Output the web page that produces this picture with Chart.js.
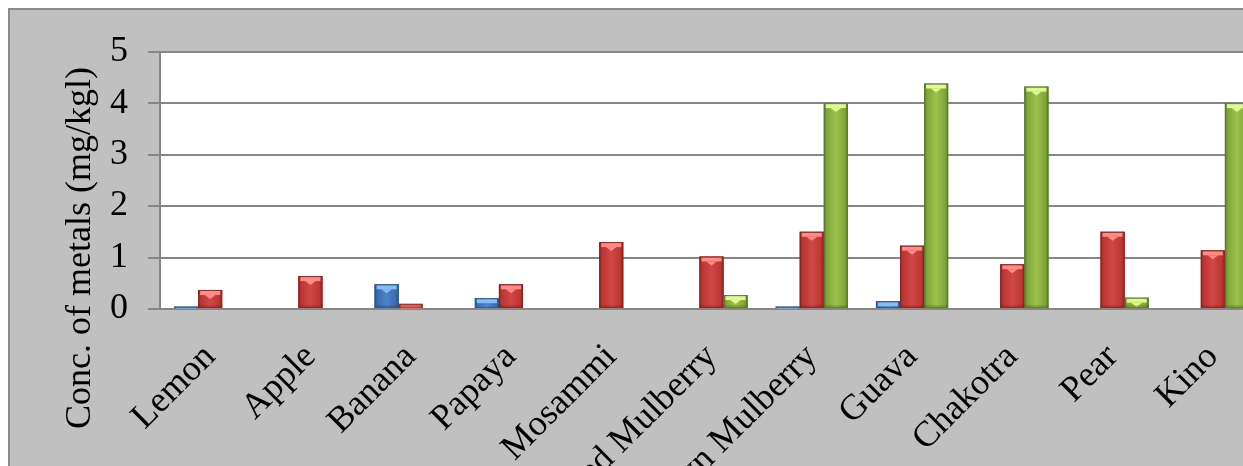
<!DOCTYPE html>
<html><head><meta charset="utf-8">
<script src="https://cdn.jsdelivr.net/npm/chart.js@4.4.1/dist/chart.umd.min.js"></script>
<style>
html,body{margin:0;padding:0;overflow:hidden;width:1243px;height:466px;background:#ffffff;}
#wrap{position:absolute;left:8px;top:8px;width:1290px;height:520px;background:#c0c0c0;border-left:2px solid #8a8a8a;border-top:2px solid #8a8a8a;}
canvas{display:block;}
</style></head>
<body>
<div id="wrap"><canvas id="c" width="1290" height="520"></canvas></div>
<script>
const categories = ['Lemon','Apple','Banana','Papaya','Mosammi','Red Mulberry','Brown Mulberry','Guava','Chakotra','Pear','Kino'];
const series1 = [0.05, 0, 0.48, 0.21, 0, 0, 0.05, 0.15, 0, 0, 0];
const series2 = [0.37, 0.64, 0.10, 0.48, 1.30, 1.02, 1.50, 1.23, 0.87, 1.50, 1.14];
const series3 = [0, 0, 0, 0, 0, 0.27, 4.00, 4.38, 4.32, 0.22, 4.00];
const seriesNames = ['Series1','Series2','Series3'];
const yTicks = [0,1,2,3,4,5];
const yTitle = 'Conc. of metals (mg/kgl)';

const palette = [
  {dark:'#2a568a', mid:'#3a6cae', light:'#4d84c8', hi:'#86bdf5'},
  {dark:'#8a2424', mid:'#bd3633', light:'#d04845', hi:'#ff8a86'},
  {dark:'#58782a', mid:'#80a53a', light:'#9cc34b', hi:'#def98c'}
];
const FONT = '"Liberation Serif", "Times New Roman", serif';

const bevel = {
  id:'bevel',
  afterDatasetsDraw(chart){
    const ctx = chart.ctx;
    chart.data.datasets.forEach((ds, di) => {
      const meta = chart.getDatasetMeta(di);
      const p = palette[di];
      meta.data.forEach(bar => {
        const {x, y, base, width} = bar.getProps(['x','y','base','width'], true);
        const h = base - y;
        if (h < 0.5) return;
        const l = x - width/2, r = x + width/2;
        ctx.save();
        if (h < 6) ctx.globalAlpha = 0.45;
        const g = ctx.createLinearGradient(l, 0, r, 0);
        g.addColorStop(0, p.dark); g.addColorStop(0.12, p.mid);
        g.addColorStop(0.5, p.light); g.addColorStop(0.88, p.mid); g.addColorStop(1, p.dark);
        ctx.fillStyle = g;
        ctx.fillRect(l, y, width, h);
        const cap = Math.min(4, h);
        ctx.fillStyle = p.hi;
        ctx.fillRect(l + 2, y + 1, width - 4, cap);
        if (h > 10) {
          ctx.beginPath();
          ctx.moveTo(x - width*0.22, y + 1 + cap);
          ctx.lineTo(x + width*0.22, y + 1 + cap);
          ctx.lineTo(x, y + 1 + cap + 4);
          ctx.closePath();
          ctx.fill();
          ctx.fillStyle = 'rgba(0,0,0,0.12)';
          ctx.fillRect(l, base - 3, width, 3);
        }
        ctx.strokeStyle = p.dark;
        ctx.globalAlpha = (h < 6 ? 0.45 : 0.8);
        ctx.lineWidth = 1;
        ctx.strokeRect(l + 0.5, y + 0.5, width - 1, h - 1);
        ctx.restore();
      });
    });
  },
  afterDraw(chart){
    const ctx = chart.ctx;
    ctx.save();
    ctx.translate(80, 238);
    ctx.rotate(-Math.PI/2);
    ctx.font = '36px ' + FONT;
    ctx.fillStyle = '#000';
    ctx.textAlign = 'center';
    ctx.textBaseline = 'alphabetic';
    ctx.fillText(yTitle, 0, 0);
    ctx.restore();
  }
};

const plotBg = {
  id:'plotBg',
  beforeDraw(chart){
    const a = chart.chartArea, ctx = chart.ctx;
    ctx.save(); ctx.fillStyle = '#ffffff';
    ctx.fillRect(a.left, a.top, a.right - a.left, a.bottom - a.top);
    ctx.restore();
  }
};

new Chart(document.getElementById('c'), {
  type:'bar',
  data:{
    labels: categories,
    datasets:[
      {label:seriesNames[0], data:series1, backgroundColor:palette[0].mid, borderWidth:0},
      {label:seriesNames[1], data:series2, backgroundColor:palette[1].mid, borderWidth:0},
      {label:seriesNames[2], data:series3, backgroundColor:palette[2].mid, borderWidth:0}
    ]
  },
  options:{
    responsive:false,
    animation:false,
    devicePixelRatio:1,
    layout:{padding:{top:40, right:37, left:0, bottom:0}},
    plugins:{legend:{display:false}, tooltip:{enabled:false}},
    datasets:{bar:{categoryPercentage:0.72, barPercentage:1.0}},
    scales:{
      x:{
        grid:{display:false, drawTicks:false},
        border:{display:true, color:'#868686', width:2},
        ticks:{font:{family:FONT, size:36}, color:'#000', minRotation:45, maxRotation:45, padding:27, autoSkip:false},
        afterFit(axis){ axis.height = 221; }
      },
      y:{
        min:0, max:5,
        afterBuildTicks(axis){ axis.ticks = yTicks.map(v => ({value:v})); },
        grid:{color:'#868686', lineWidth:2, drawTicks:true, tickLength:12},
        border:{display:true, color:'#868686', width:2},
        ticks:{font:{family:FONT, size:36}, color:'#000', padding:20},
        afterFit(axis){ axis.width = 150; }
      }
    }
  },
  plugins:[plotBg, bevel]
});
</script>
</body></html>
